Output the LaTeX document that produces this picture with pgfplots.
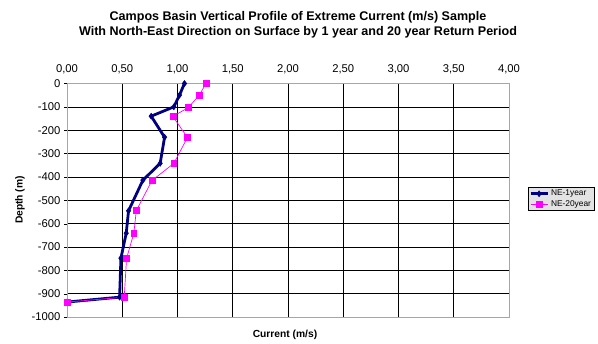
\documentclass[border=0pt]{standalone}
\usepackage{pgfplots}
\pgfplotsset{compat=1.18}
\usepackage{fontspec}
\setmainfont{Liberation Sans}
\definecolor{navyc}{RGB}{0,0,128}
\definecolor{magc}{RGB}{255,0,255}
\begin{document}
\begin{tikzpicture}[x=1bp,y=1bp]
\path (0,0) rectangle (598,341);
\node[font=\bfseries\fontsize{12.6}{15}\selectfont,align=center] at (298,316)
  {Campos Basin Vertical Profile of Extreme Current (m/s) Sample\\With North-East Direction on Surface by 1 year and 20 year Return Period};
\node[font=\bfseries\fontsize{10.3}{12}\selectfont] at (285,6) {Current (m/s)};
\node[font=\bfseries\fontsize{10.3}{12}\selectfont,rotate=90] at (20,141) {Depth (m)};
\begin{axis}[
  at={(67bp,24bp)}, anchor=south west,
  width=442bp, height=233.5bp, scale only axis,
  xmin=0, xmax=4, ymin=-1000, ymax=0,
  xtick={0,0.5,...,4}, ytick={-1000,-900,...,0},
  xticklabel pos=top,
  x tick label style={yshift=3pt, /pgf/number format/.cd, fixed, fixed zerofill, precision=2, use comma},
  /pgf/number format/assume math mode=true,
  /pgf/number format/1000 sep={},
  tick label style={font=\fontsize{11.3}{13}\selectfont},
  grid=major, major grid style={black, line width=0.6pt},
  axis line style={gray!70, line width=0.8pt},
  tick style={black}, major tick length=3pt,
  xtick style={draw=none},
  ytick pos=left, tick align=outside,
  legend style={at={(1.043,0.557)}, anchor=north west, fill=gray!22, draw=black,
    font=\fontsize{8.4}{9.5}\selectfont, inner sep=1pt, row sep=-1pt, cells={anchor=west}},
  legend cell align=left,
]
\addplot[navyc, line width=2.8pt, mark=diamond*, mark size=3pt, mark options={solid, line width=0.5pt}] coordinates {
(1.063,0) (1.018,-50) (0.967,-100) (0.762,-140) (0.883,-230) (0.843,-342) (0.687,-414) (0.557,-545) (0.536,-641) (0.488,-748) (0.476,-915) (0,-936)};
\addlegendentry{NE-1year}
\addplot[magc, line width=0.7pt, mark=square*, mark size=3pt] coordinates {
(1.259,0) (1.196,-50) (1.099,-103) (0.958,-141) (1.090,-231) (0.967,-342) (0.768,-416) (0.627,-545) (0.605,-641) (0.539,-749) (0.518,-915) (0,-936)};
\addlegendentry{NE-20year}
\end{axis}
\end{tikzpicture}
\end{document}
